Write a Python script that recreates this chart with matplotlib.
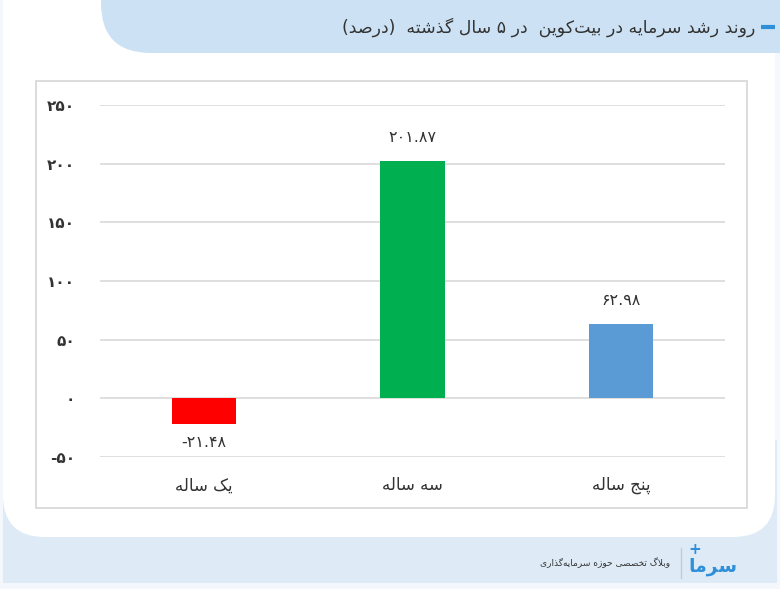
import matplotlib
matplotlib.use("Agg")
import matplotlib.pyplot as plt
from matplotlib.patches import FancyBboxPatch, Rectangle

plt.rcParams['font.family'] = ['DejaVu Sans']

# ---------------- data ----------------
categories = ["یک ساله", "سه ساله", "پنج ساله"]
values = [-21.48, 201.87, 62.98]
value_labels = ["-۲۱.۴۸", "۲۰۱.۸۷", "۶۲.۹۸"]
bar_colors = ["#FF0000", "#00B050", "#5B9BD5"]
yticks = [-50, 0, 50, 100, 150, 200, 250]
ytick_labels = ["-۵۰", "۰", "۵۰", "۱۰۰", "۱۵۰", "۲۰۰", "۲۵۰"]
title = "روند رشد سرمایه در بیت\u200cکوین  در ۵ سال گذشته  (درصد)"
footer = "وبلاگ تخصصی حوزه سرمایه\u200cگذاری"
logo = "سرما"

# ------------- simple Arabic/Persian shaping -------------
FORMS = {
    'ا': ('\uFE8D', '\uFE8E', None, None),
    'ب': ('\uFE8F', '\uFE90', '\uFE91', '\uFE92'),
    'پ': ('\uFB56', '\uFB57', '\uFB58', '\uFB59'),
    'ت': ('\uFE95', '\uFE96', '\uFE97', '\uFE98'),
    'ج': ('\uFE9D', '\uFE9E', '\uFE9F', '\uFEA0'),
    'ح': ('\uFEA1', '\uFEA2', '\uFEA3', '\uFEA4'),
    'خ': ('\uFEA5', '\uFEA6', '\uFEA7', '\uFEA8'),
    'د': ('\uFEA9', '\uFEAA', None, None),
    'ذ': ('\uFEAB', '\uFEAC', None, None),
    'ر': ('\uFEAD', '\uFEAE', None, None),
    'ز': ('\uFEAF', '\uFEB0', None, None),
    'س': ('\uFEB1', '\uFEB2', '\uFEB3', '\uFEB4'),
    'ش': ('\uFEB5', '\uFEB6', '\uFEB7', '\uFEB8'),
    'ص': ('\uFEB9', '\uFEBA', '\uFEBB', '\uFEBC'),
    'ک': ('\uFB8E', '\uFB8F', '\uFB90', '\uFB91'),
    'گ': ('\uFB92', '\uFB93', '\uFB94', '\uFB95'),
    'ل': ('\uFEDD', '\uFEDE', '\uFEDF', '\uFEE0'),
    'م': ('\uFEE1', '\uFEE2', '\uFEE3', '\uFEE4'),
    'ن': ('\uFEE5', '\uFEE6', '\uFEE7', '\uFEE8'),
    'ه': ('\uFEE9', '\uFEEA', '\uFEEB', '\uFEEC'),
    'و': ('\uFEED', '\uFEEE', None, None),
    'ی': ('\uFBFC', '\uFBFD', '\uFBFE', '\uFBFF'),
}


def _joins_next(c):
    return c in FORMS and FORMS[c][2] is not None


def shape(text):
    chars = list(text)
    n = len(chars)
    res = []
    i = 0
    while i < n:
        c = chars[i]
        if c not in FORMS:
            if c != '\u200c':
                res.append(c)
            i += 1
            continue
        prev = chars[i - 1] if i > 0 else None
        cp = prev is not None and _joins_next(prev)
        if c == 'ل' and i + 1 < n and chars[i + 1] == 'ا':
            res.append('\uFEFC' if cp else '\uFEFB')
            i += 2
            continue
        nxt = chars[i + 1] if i + 1 < n else None
        cn = _joins_next(c) and nxt is not None and nxt in FORMS
        iso, fin, ini, med = FORMS[c]
        if cp and cn:
            res.append(med)
        elif cp:
            res.append(fin)
        elif cn:
            res.append(ini)
        else:
            res.append(iso)
        i += 1
    return ''.join(res)


def rtl(text):
    s = shape(text)
    runs = []
    cur = ''
    cur_ltr = None
    for ch in s:
        ltr = ('\u06F0' <= ch <= '\u06F9') or ch.isdigit() or ch == '.'
        if cur_ltr is None or ltr == cur_ltr:
            cur += ch
        else:
            runs.append((cur, cur_ltr))
            cur = ch
        cur_ltr = ltr
    if cur:
        runs.append((cur, cur_ltr))
    out = []
    for r, ltr in reversed(runs):
        if ltr:
            out.append(r)
        else:
            rr = r[::-1]
            rr = rr.replace('(', '\0').replace(')', '(').replace('\0', ')')
            out.append(rr)
    return ''.join(out)


# ---------------- figure ----------------
W, H = 780, 589
fig = plt.figure(figsize=(W / 100, H / 100), dpi=100)
fig.patch.set_facecolor('#f4f7fb')

bg = fig.add_axes([0, 0, 1, 1])
bg.set_xlim(0, W)
bg.set_ylim(H, 0)
bg.axis('off')

# footer band
bg.add_patch(Rectangle((3, 440), W - 6, 143, facecolor='#deebf7', edgecolor='none'))
# white main panel with rounded bottom corners
bg.add_patch(FancyBboxPatch((3, -60), 772, 597, boxstyle="round,pad=0,rounding_size=42",
                            facecolor='white', edgecolor='none'))
# title band with rounded bottom-left corner
bg.add_patch(FancyBboxPatch((101, -80), 760, 133, boxstyle="round,pad=0,rounding_size=50",
                            facecolor='#cce2f4', edgecolor='none'))
# chart border box
bg.add_patch(Rectangle((36, 81), 711, 427, facecolor='white', edgecolor='#d9d9d9', lw=1.3))

# title
bg.text(755, 27, rtl(title), ha='right', va='center', fontsize=12.5, color='#333333')
bg.plot([761, 775], [27, 27], color='#2f8fd8', lw=3, solid_capstyle='butt')

# footer
bg.plot([681, 681], [548, 578], color='#b8cfe6', lw=1)
bg.text(670, 563, rtl(footer), ha='right', va='center', fontsize=6.5, color='#333333')
bg.text(688, 566, rtl(logo), ha='left', va='center', fontsize=13.5, color='#2f8fd8',
        fontweight='bold')
bg.text(688, 549, '+', ha='left', va='center', fontsize=11, color='#2f8fd8', fontweight='bold')

# ---------------- chart ----------------
ax = fig.add_axes([100 / W, 1 - 457 / H, 625 / W, 352 / H])
ax.set_facecolor('none')
x = list(range(len(categories)))
ax.bar(x, values, width=0.31, color=bar_colors, zorder=3)
ax.set_xlim(-0.5, len(categories) - 0.5)
ax.set_ylim(-50, 250)
ax.set_yticks(yticks)
ax.set_yticklabels(ytick_labels)
ax.set_xticks(x)
ax.set_xticklabels([rtl(c) for c in categories])
ax.grid(axis='y', color='#d9d9d9', lw=1.2, zorder=0)
for s in ax.spines.values():
    s.set_visible(False)
ax.tick_params(axis='both', length=0, colors='#333333')
ax.tick_params(axis='y', pad=18, labelsize=11)
ax.tick_params(axis='x', pad=14, labelsize=12)
for lab in ax.get_yticklabels():
    lab.set_fontweight('bold')

for xi, v, lbl in zip(x, values, value_labels):
    if v >= 0:
        ax.annotate(lbl, (xi, v), xytext=(0, 12), textcoords='offset points',
                    ha='center', va='bottom', fontsize=11.5, color='#333333')
    else:
        ax.annotate(lbl, (xi, v), xytext=(0, -8), textcoords='offset points',
                    ha='center', va='top', fontsize=11.5, color='#333333')

fig.savefig('out.png', dpi=100, facecolor=fig.get_facecolor())
